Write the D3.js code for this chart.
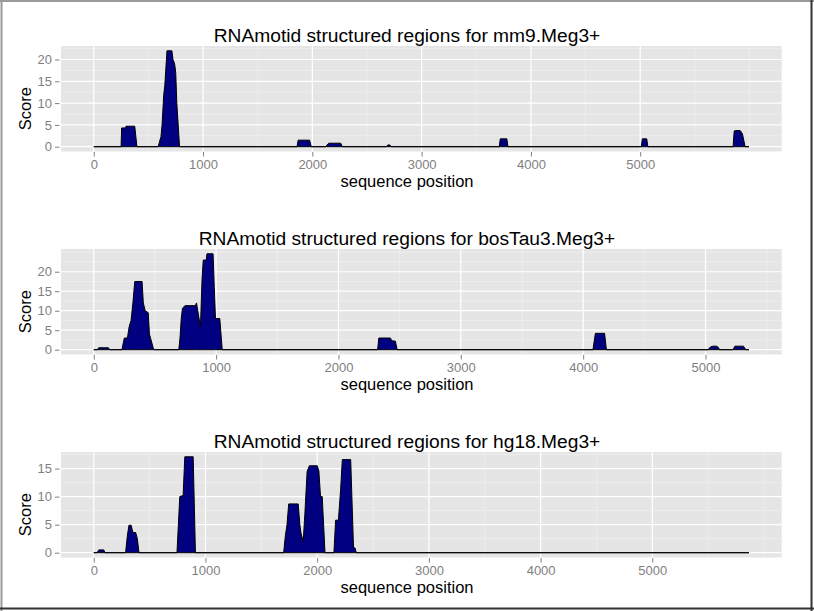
<!DOCTYPE html>
<meta charset="utf-8">
<style>
body { margin: 0; background: #fff; }
text { font-family: "Liberation Sans", Arial, sans-serif; }
.tick-label { fill: #7f7f7f; font-size: 13px; }
.axis-title { fill: #000; font-size: 16.5px; }
.plot-title { fill: #000; font-size: 19.2px; }
</style>
<svg width="814" height="611"></svg>
<script src="https://d3js.org/d3.v7.min.js"></script>
<script>
// genomes shown, one panel each
let genomes = ["mm9.Meg3+", "bosTau3.Meg3+", "hg18.Meg3+"];
let seqLengths = [5995, 5355, 5865];

// [sequence position, score]
let mm9Scores = [
  [0,0],[250,0],[255,4.3],[290,4.3],[295,4.7],[375,4.7],[395,0],
  [590,0],[600,1],[615,2.3],[625,5],[640,11.8],[650,14],[670,22],[715,22],[725,20],[740,19],[750,17],[760,10],[785,0],
  [1860,0],[1870,1.5],[1975,1.5],[1990,0],
  [2120,0],[2150,0.8],[2260,0.8],[2275,0],
  [2680,0],[2690,0.4],[2710,0.4],[2720,0],
  [3710,0],[3720,1.8],[3780,1.8],[3790,0],
  [5010,0],[5020,1.8],[5060,1.8],[5070,0],
  [5850,0],[5860,3.6],[5870,3.7],[5915,3.7],[5935,3],[5960,0],
  [5995,0]
];
let bosTau3Scores = [
  [0,0],[30,0],[40,0.5],[120,0.5],[130,0],
  [230,0],[250,3],[275,3],[290,6],[305,7.5],[320,12],[335,17.5],[395,17.5],[405,12],[420,10],[445,9.5],[455,4],[490,0],
  [695,0],[705,3],[715,8],[725,10.6],[745,11.3],[830,11.3],[840,12],[850,10],[872,5.9],[885,18],[895,23],[920,23],[925,24.6],[975,24.6],[985,16],[995,8],[1030,8],[1050,0],
  [2320,0],[2330,3],[2425,3],[2435,2.3],[2465,2.2],[2480,0],
  [4080,0],[4100,4.2],[4175,4.2],[4190,0],
  [5020,0],[5040,0.7],[5060,0.9],[5090,0.9],[5105,0.6],[5115,0],
  [5225,0],[5240,0.9],[5310,0.9],[5330,0],
  [5355,0]
];
let hg18Scores = [
  [0,0],[30,0],[45,0.5],[90,0.5],[100,0],
  [285,0],[300,2.9],[315,4.9],[335,4.9],[350,3.6],[375,3.6],[385,2.9],[390,2.5],[405,0],
  [745,0],[770,10],[800,10.2],[815,17.1],[890,17.1],[910,0],
  [1700,0],[1715,3],[1730,5],[1745,8.7],[1830,8.7],[1845,5],[1855,3.5],[1875,2],[1890,7],[1910,14.5],[1930,15.5],[2000,15.5],[2015,14.6],[2030,10],[2045,10],[2070,0],
  [2150,0],[2165,5.8],[2190,5.8],[2210,11.3],[2225,16.6],[2300,16.6],[2325,1],[2340,0.8],[2350,0],
  [5865,0]
];
let profiles = [mm9Scores, bosTau3Scores, hg18Scores];

let xTickValues = [0, 1000, 2000, 3000, 4000, 5000];
let yTickValues = [[0, 5, 10, 15, 20], [0, 5, 10, 15, 20], [0, 5, 10, 15]];

let svg = d3.select("svg"),
    width = +svg.attr("width"),
    height = +svg.attr("height");

// window frame
svg.append("line").attr("x1", 1.5).attr("y1", 0).attr("x2", 1.5).attr("y2", height).attr("stroke", "#9a9a9a").attr("stroke-width", 2);
svg.append("line").attr("x1", 0).attr("y1", 1).attr("x2", width).attr("y2", 1).attr("stroke", "#9a9a9a").attr("stroke-width", 2);
svg.append("line").attr("x1", 811.5).attr("y1", 0).attr("x2", 811.5).attr("y2", height).attr("stroke", "#333").attr("stroke-width", 2);
svg.append("line").attr("x1", 0).attr("y1", 608.5).attr("x2", width).attr("y2", 608.5).attr("stroke", "#333").attr("stroke-width", 2);

let left = 61, right = 781.7, panelH = 105.5;
let panelTops = [46, 249, 452];

profiles.forEach(function(data, i) {
  let top = panelTops[i], bottom = top + panelH;
  let len = seqLengths[i];
  let ymax = d3.max(data, function(d) { return d[1]; });

  let x = d3.scaleLinear().domain([-0.05 * len, 1.05 * len]).range([left, right]);
  let y = d3.scaleLinear().domain([-0.05 * ymax, 1.05 * ymax]).range([bottom, top]);

  let g = svg.append("g");

  g.append("rect").attr("x", left).attr("y", top)
    .attr("width", right - left).attr("height", panelH)
    .attr("fill", "#e5e5e5");

  // minor grid: half steps inside the panel that are not major breaks
  let xMinor = d3.range(-1000, 7000, 500).filter(function(v) {
    return v > x.domain()[0] && v < x.domain()[1] && xTickValues.indexOf(v) < 0;
  });
  let yMinor = d3.range(-5, 30, 2.5).filter(function(v) {
    return v > y.domain()[0] && v < y.domain()[1] && yTickValues[i].indexOf(v) < 0;
  });

  g.selectAll(".xminor").data(xMinor).enter().append("line")
    .attr("x1", x).attr("x2", x).attr("y1", top).attr("y2", bottom)
    .attr("stroke", "#f2f2f2").attr("stroke-width", 0.6);
  g.selectAll(".yminor").data(yMinor).enter().append("line")
    .attr("x1", left).attr("x2", right).attr("y1", y).attr("y2", y)
    .attr("stroke", "#f2f2f2").attr("stroke-width", 0.6);
  g.selectAll(".xmajor").data(xTickValues).enter().append("line")
    .attr("x1", x).attr("x2", x).attr("y1", top).attr("y2", bottom)
    .attr("stroke", "#fff").attr("stroke-width", 1.2);
  g.selectAll(".ymajor").data(yTickValues[i]).enter().append("line")
    .attr("x1", left).attr("x2", right).attr("y1", y).attr("y2", y)
    .attr("stroke", "#fff").attr("stroke-width", 1.2);

  let area = d3.area()
    .x(function(d) { return x(d[0]); })
    .y0(y(0))
    .y1(function(d) { return y(d[1]); });

  g.append("path").datum(data)
    .attr("d", area)
    .attr("fill", "#000080")
    .attr("stroke", "#000")
    .attr("stroke-width", 1)
    .attr("stroke-linejoin", "round");

  // axes
  let xAxis = d3.axisBottom(x).tickValues(xTickValues).tickFormat(d3.format("d")).tickSize(4.5).tickPadding(3);
  let yAxis = d3.axisLeft(y).tickValues(yTickValues[i]).tickFormat(d3.format("d")).tickSize(4.5).tickPadding(3);

  let gx = g.append("g").attr("transform", "translate(0," + (bottom + 0.5) + ")").call(xAxis);
  let gy = g.append("g").attr("transform", "translate(" + (left - 1.5) + ",0)").call(yAxis);
  [gx, gy].forEach(function(a) {
    a.select(".domain").remove();
    a.selectAll(".tick line").attr("stroke", "#7f7f7f");
    a.selectAll(".tick text").attr("class", "tick-label").attr("fill", "#7f7f7f")
      .style("font-size", "13px").style("font-family", "'Liberation Sans', Arial, sans-serif");
  });

  g.append("text").attr("class", "plot-title")
    .attr("x", width / 2).attr("y", top - 4.5)
    .attr("text-anchor", "middle")
    .text("RNAmotid structured regions for " + genomes[i]);

  g.append("text").attr("class", "axis-title")
    .attr("x", width / 2).attr("y", bottom + 35.5)
    .attr("text-anchor", "middle")
    .text("sequence position");

  g.append("text").attr("class", "axis-title")
    .attr("transform", "translate(30.5," + ((top + bottom) / 2 + 10) + ") rotate(-90)")
    .attr("text-anchor", "middle")
    .text("Score");
});
</script>
